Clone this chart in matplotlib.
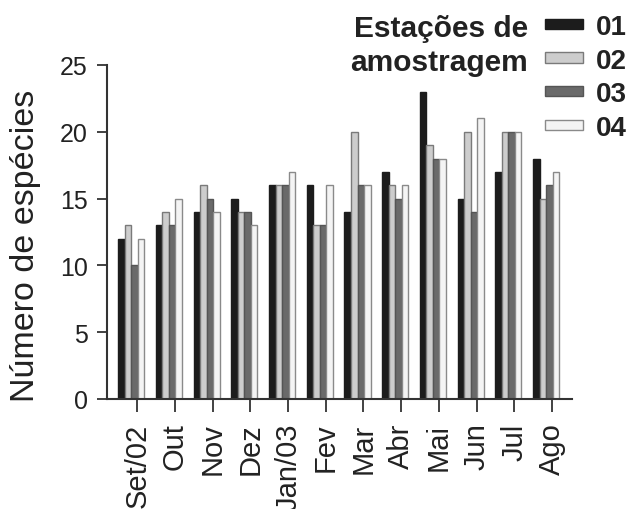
import numpy as np
import matplotlib
matplotlib.use("Agg")
import matplotlib.pyplot as plt

plt.rcParams['font.family'] = ['Liberation Sans', 'DejaVu Sans']

meses = ['Set/02', 'Out', 'Nov', 'Dez', 'Jan/03', 'Fev', 'Mar', 'Abr', 'Mai', 'Jun', 'Jul', 'Ago']
estacoes = ['01', '02', '03', '04']

# número de espécies por estação de amostragem
est_01 = [12, 13, 14, 15, 16, 16, 14, 17, 23, 15, 17, 18]
est_02 = [13, 14, 16, 14, 16, 13, 20, 16, 19, 20, 20, 15]
est_03 = [10, 13, 15, 14, 16, 13, 16, 15, 18, 14, 20, 16]
est_04 = [12, 15, 14, 13, 17, 16, 16, 16, 18, 21, 20, 17]

series = [est_01, est_02, est_03, est_04]
fills = ['#1c1c1c', '#cdcdcd', '#6a6a6a', '#f4f4f4']
edges = ['#1c1c1c', '#7a7a7a', '#555555', '#8a8a8a']

fig = plt.figure(figsize=(6.42, 5.1), dpi=100)
ax = fig.add_axes([0.1667, 0.2157, 0.7243, 0.6549])

x = np.arange(len(meses))
w = 0.173
handles = []
for k, (vals, fc, ec) in enumerate(zip(series, fills, edges)):
    b = ax.bar(x - 0.417 + k * w, vals, width=w, color=fc, edgecolor=ec,
               linewidth=1.0, label=estacoes[k])
    handles.append(b)

ax.set_xlim(-0.8, 11.53)
ax.set_ylim(0, 25)
ax.set_yticks([0, 5, 10, 15, 20, 25])
ax.set_xticks(x)
ax.set_xticklabels(meses, rotation=90, fontsize=21, color='#222222')
ax.tick_params(axis='y', labelsize=18, length=7, width=1.3, pad=7,
               color='#333333', labelcolor='#222222')
ax.tick_params(axis='x', length=9, width=1.3, pad=8, color='#333333')

for side in ['top', 'right']:
    ax.spines[side].set_visible(False)
for side in ['left', 'bottom']:
    ax.spines[side].set_linewidth(1.5)
    ax.spines[side].set_color('#333333')

ax.set_ylabel('Número de espécies', fontsize=24.5, color='#222222')
ax.yaxis.set_label_coords(-0.142, 0.46)

fig.text(0.822, 0.97, 'Estações de\namostragem', ha='right', va='top',
         multialignment='right', fontsize=21.5, fontweight='bold',
         color='#222222', linespacing=1.28)

fig.legend(handles=handles, labels=estacoes, loc='upper left',
           bbox_to_anchor=(0.81, 1.02), frameon=False,
           prop={'size': 20, 'weight': 'bold'},
           handlelength=1.37, handleheight=0.2, handletextpad=0.47,
           labelspacing=0.28, labelcolor='#222222')

fig.savefig('out.png', dpi=100)
